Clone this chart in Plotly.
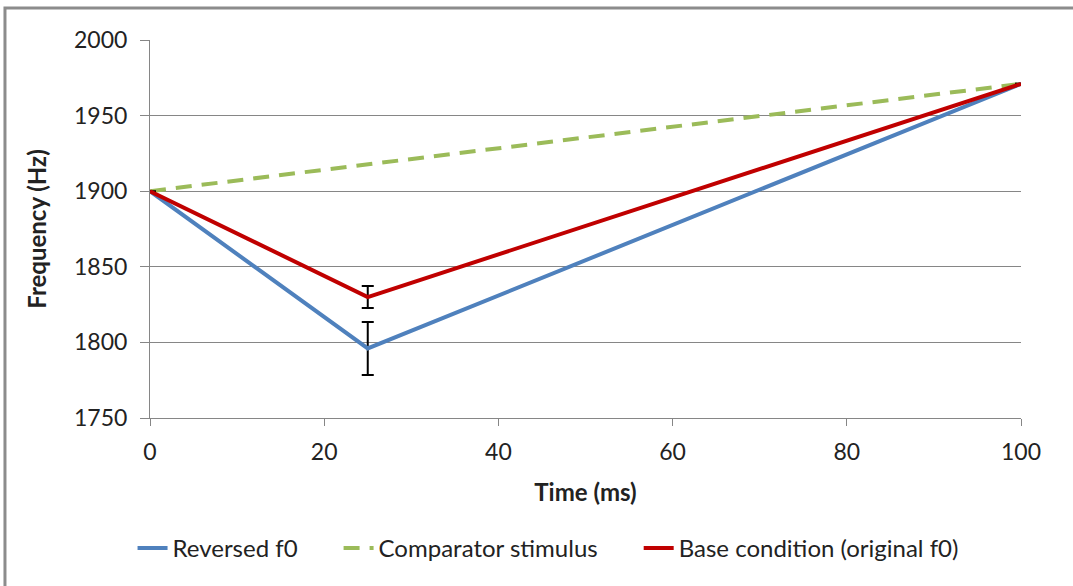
import plotly.graph_objects as go

time_ms = [0, 25, 100]
reversed_f0 = [1900, 1796, 1971]
reversed_err = [0, 17.5, 0]
comparator_time = [0, 100]
comparator = [1900, 1971]
base_f0 = [1900, 1830, 1971]
base_err = [0, 7.3, 0]

x_ticks = [0, 20, 40, 60, 80, 100]
y_ticks = [1750, 1800, 1850, 1900, 1950, 2000]

series_names = ["Reversed f0", "Comparator stimulus", "Base condition (original f0)"]

FONT = "Lato, 'Open Sans', sans-serif"
PAD = "\u2003\u2003"

fig = go.Figure()
fig.add_trace(go.Scatter(
    x=time_ms, y=reversed_f0, mode="lines", name=series_names[0] + PAD,
    line=dict(color="#4F81BD", width=4),
    error_y=dict(type="data", array=reversed_err, visible=True, color="black", thickness=2, width=6),
))
fig.add_trace(go.Scatter(
    x=comparator_time, y=comparator, mode="lines", name=series_names[1] + PAD,
    line=dict(color="#9BBB59", width=4, dash="16px,10px"),
))
fig.add_trace(go.Scatter(
    x=time_ms, y=base_f0, mode="lines", name=series_names[2],
    line=dict(color="#C00000", width=4),
    error_y=dict(type="data", array=base_err, visible=True, color="black", thickness=2, width=6),
))

fig.update_layout(
    width=1073, height=586,
    margin=dict(l=150, r=52, t=40, b=168),
    paper_bgcolor="white", plot_bgcolor="white",
    font=dict(family=FONT, size=22, color="#222"),
    showlegend=True,
    legend=dict(orientation="h", x=0.457, xanchor="center", y=-0.345, yanchor="middle",
                font=dict(size=24), tracegroupgap=0),
    xaxis=dict(range=[0, 100], tickvals=x_ticks, showgrid=False, showline=True,
               linecolor="#868686", linewidth=1, ticks="outside", ticklen=7,
               tickcolor="#868686", zeroline=False, ticklabelstandoff=6,
               title=dict(text="<b>Time (ms)</b>", font=dict(size=24), standoff=20),
               tickfont=dict(size=23)),
    yaxis=dict(range=[1750, 2000], tickvals=y_ticks, showgrid=True, gridcolor="#868686",
               gridwidth=1, showline=True, linecolor="#868686", linewidth=1,
               ticks="outside", ticklen=9, tickcolor="#868686", zeroline=False,
               ticklabelstandoff=8,
               title=dict(text="<b>Frequency (Hz)</b>", font=dict(size=24), standoff=20),
               tickfont=dict(size=23)),
    shapes=[dict(type="rect", xref="paper", yref="paper",
                 x0=-0.1665, x1=1.1, y0=-0.6, y1=1.0847,
                 line=dict(color="#8c8c8c", width=3), fillcolor="rgba(0,0,0,0)", layer="below")],
)

fig.write_html("out.html")
